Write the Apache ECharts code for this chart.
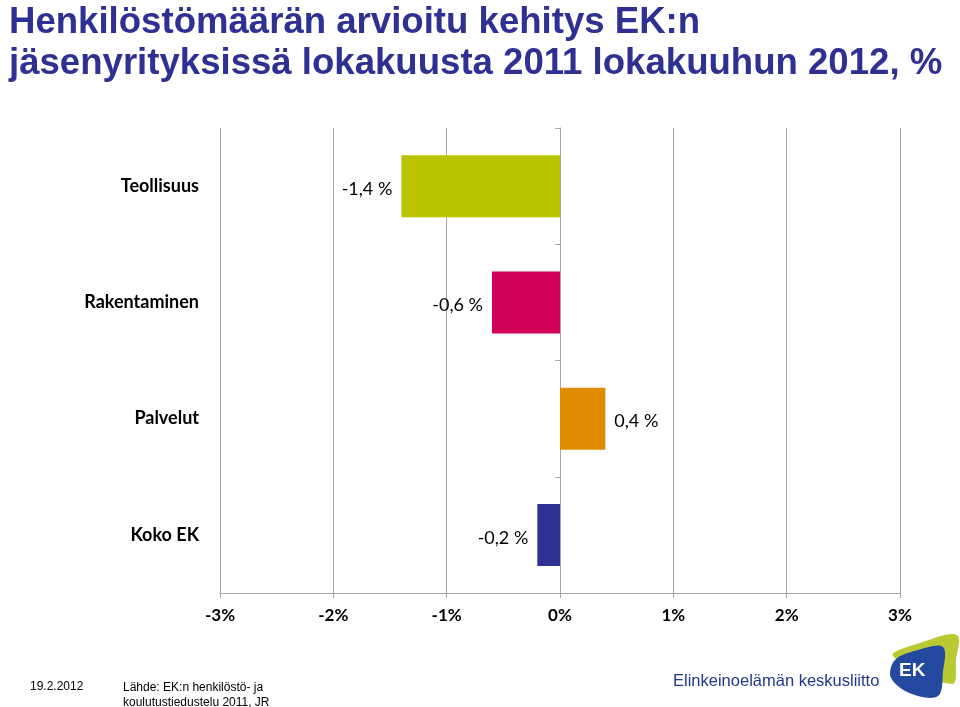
<!DOCTYPE html>
<html><head><meta charset="utf-8">
<script src="https://cdn.jsdelivr.net/npm/echarts@6/dist/echarts.min.js"></script>
<style>html,body{margin:0;padding:0;background:#fff}#c{width:960px;height:707px}</style>
</head><body><div id="c"></div>
<script>
const categories = ['Teollisuus', 'Rakentaminen', 'Palvelut', 'Koko EK'];
const values = [-1.4, -0.6, 0.4, -0.2];
const barColors = ['#bcc400', '#d10057', '#e08b00', '#2e3192'];
const xTicks = [-3, -2, -1, 0, 1, 2, 3];

const chart = echarts.init(document.getElementById('c'));
const fmt = v => String(v).replace('.', ',');
chart.setOption({
  backgroundColor: '#fff',
  animation: false,
  title: {
    text: 'Henkilöstömäärän arvioitu kehitys EK:n\njäsenyrityksissä lokakuusta 2011 lokakuuhun 2012, %',
    left: 4, top: -3,
    textStyle: { fontFamily: 'Liberation Sans', fontWeight: 'bold', fontSize: 36.6, lineHeight: 41, color: '#2e3192' }
  },
  grid: { left: 220, right: 60, top: 128, bottom: 114 },
  xAxis: {
    type: 'value', min: xTicks[0], max: xTicks[xTicks.length - 1], interval: 1,
    axisLine: { show: true, lineStyle: { color: '#a6a6a6', width: 1 } },
    axisTick: { show: true, length: 5, lineStyle: { color: '#a6a6a6' } },
    splitLine: { show: true, lineStyle: { color: '#a6a6a6', width: 1 } },
    axisLabel: { margin: 14, formatter: v => v + '%', fontFamily: 'Lato', fontWeight: 'bold', fontSize: 17, color: '#000' }
  },
  yAxis: [{
    type: 'category', data: categories, inverse: true, position: 'left',
    axisLine: { show: false, onZero: false },
    axisTick: { show: false },
    axisLabel: { margin: 21, fontFamily: 'Lato', fontWeight: 'bold', fontSize: 18, color: '#000' }
  }, {
    type: 'category', data: categories, inverse: true, position: 'left',
    axisLine: { show: true, onZero: true, lineStyle: { color: '#a6a6a6' } },
    axisTick: { show: true, length: 5, lineStyle: { color: '#a6a6a6' } },
    axisLabel: { show: false }
  }],
  series: [{
    type: 'bar', yAxisIndex: 0, barWidth: 62,
    data: values.map((v, i) => ({
      value: v,
      itemStyle: { color: barColors[i] },
      label: { position: v < 0 ? 'left' : 'right' }
    })),
    label: {
      show: true, distance: 9, offset: [0, 3],
      formatter: p => fmt(p.value) + ' %',
      fontFamily: 'Lato', fontSize: 18, color: '#000'
    }
  }],
  graphic: [
    { type: 'text', left: 30, top: 681, style: { text: '19.2.2012', font: '12px "Liberation Sans"', fill: '#000' } },
    { type: 'text', left: 123, top: 680, style: { text: 'Lähde: EK:n henkilöstö- ja\nkoulutustiedustelu 2011, JR', font: '12px "Liberation Sans"', lineHeight: 15, fill: '#000' } },
    { type: 'text', left: 673, top: 673, style: { text: 'Elinkeinoelämän keskusliitto', font: '16.5px "Liberation Sans"', fill: '#1f3a8c' } },
    { type: 'polygon', shape: { smooth: 0.35, points: [[893, 656], [920, 643], [957, 635], [956, 660], [952, 684]] }, style: { fill: '#b9c934' } },
    { type: 'polygon', shape: { smooth: 0.35, points: [[895, 660], [918, 650], [943, 647], [943, 672], [938, 696], [912, 694], [891, 678]] }, style: { fill: '#24499e' } },
    { type: 'text', left: 899, top: 661, style: { text: 'EK', font: 'bold 19px "Liberation Sans"', fill: '#fff' } }
  ]
});
</script>
</body></html>
